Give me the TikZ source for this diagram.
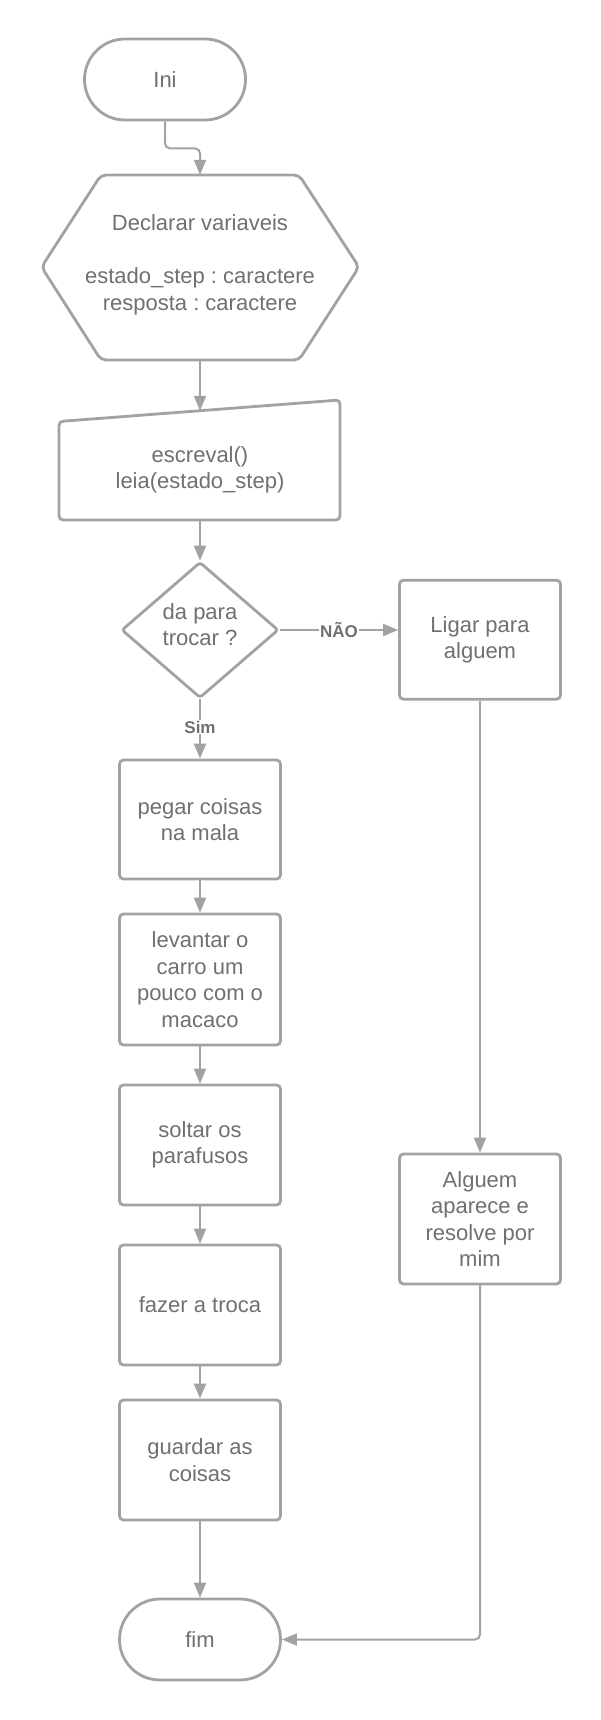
\documentclass[tikz,border=0pt]{standalone}
\usepackage{fontspec}
\setmainfont{Liberation Sans}
\usetikzlibrary{shapes.misc,shapes.geometric,arrows.meta}
\definecolor{ln}{HTML}{A2A2A2}
\definecolor{tx}{HTML}{707070}
\frenchspacing
\begin{document}
\begin{tikzpicture}[x=1pt,y=-1pt,
  every node/.style={font=\fontsize{22}{26.5}\selectfont, text=tx, align=center, inner sep=0pt},
  shp/.style={draw=ln, line width=2.8pt},
  boxn/.style={shp, rectangle, rounded corners=4pt, minimum width=161pt, minimum height=120pt},
  term/.style={shp, rounded rectangle, minimum width=161pt, minimum height=81pt},
  conn/.style={draw=ln, line width=2pt, -{Triangle[length=15pt,width=12pt]}},
  lbl/.style={font=\bfseries\fontsize{17}{20}\selectfont, fill=white, inner sep=1pt}]
\useasboundingbox (0,0) rectangle (600,1720);
\fill[white] (0,0) rectangle (600,1720);

% start
\node[term] (ini) at (165,79.5) {Ini};

% hexagon (declaration)
\draw[shp, rounded corners=5pt] (101,175) -- (299,175) -- (359,267) -- (299,360) -- (101,360) -- (41.5,267) -- cycle;
\node[minimum width=317pt, minimum height=185pt] (hex) at (200,267.5) {};
\node (hexT) at (200,265) {Declarar variaveis\\ \\estado\_step : caractere\\resposta : caractere};

% manual input
\draw[shp, rounded corners=4pt] (59,421.5) -- (340,400) -- (340,520) -- (59,520) -- cycle;
\coordinate (inpIn) at (200,410.8);
\node[minimum width=281pt, minimum height=100pt] (inp) at (200,470) {escreval()\\leia(estado\_step)};

% decision
\node[shp, diamond, aspect=1.16, minimum width=157pt, minimum height=136pt, rounded corners=3pt] (dec) at (200,630) {};
\node (decT) at (200,624.5) {da para\\trocar ?};

% left column
\node[boxn, minimum height=119pt] (b1) at (200,819.5) {pegar coisas\\na mala};
\node[boxn, minimum height=131pt] (b2) at (200,979.5) {levantar o\\carro um\\pouco com o\\macaco};
\node[boxn] (b3) at (200,1145) {soltar os\\parafusos};
\node[boxn] (b4) at (200,1305) {fazer a troca};
\node[boxn] (b5) at (200,1460) {guardar as\\coisas};
\node[term] (fim) at (200,1639.5) {fim};

% right column
\node[boxn, minimum height=119pt] (r1) at (480,639.7) {Ligar para\\alguem};
\node[boxn, minimum height=130pt] (r2) at (480,1219) {Alguem\\aparece e\\resolve por\\mim};

% connectors
\draw[conn, rounded corners=5pt] (ini.south) -- ++(0,27) -| (hex.north);
\draw[conn] (hex.south) -- (inpIn);
\draw[conn] (inp.south) -- (dec.north);
\draw[conn] (dec.east) -- node[lbl] {NÃO} (dec.east -| r1.west);
\draw[conn] (dec.south) -- node[lbl, pos=0.47] {Sim} (b1.north);
\draw[conn] (b1.south) -- (b2.north);
\draw[conn] (b2.south) -- (b3.north);
\draw[conn] (b3.south) -- (b4.north);
\draw[conn] (b4.south) -- (b5.north);
\draw[conn] (b5.south) -- (fim.north);
\draw[conn] (r1.south) -- (r2.north);
\draw[conn, rounded corners=5pt] (r2.south) |- (fim.east);
\end{tikzpicture}
\end{document}
